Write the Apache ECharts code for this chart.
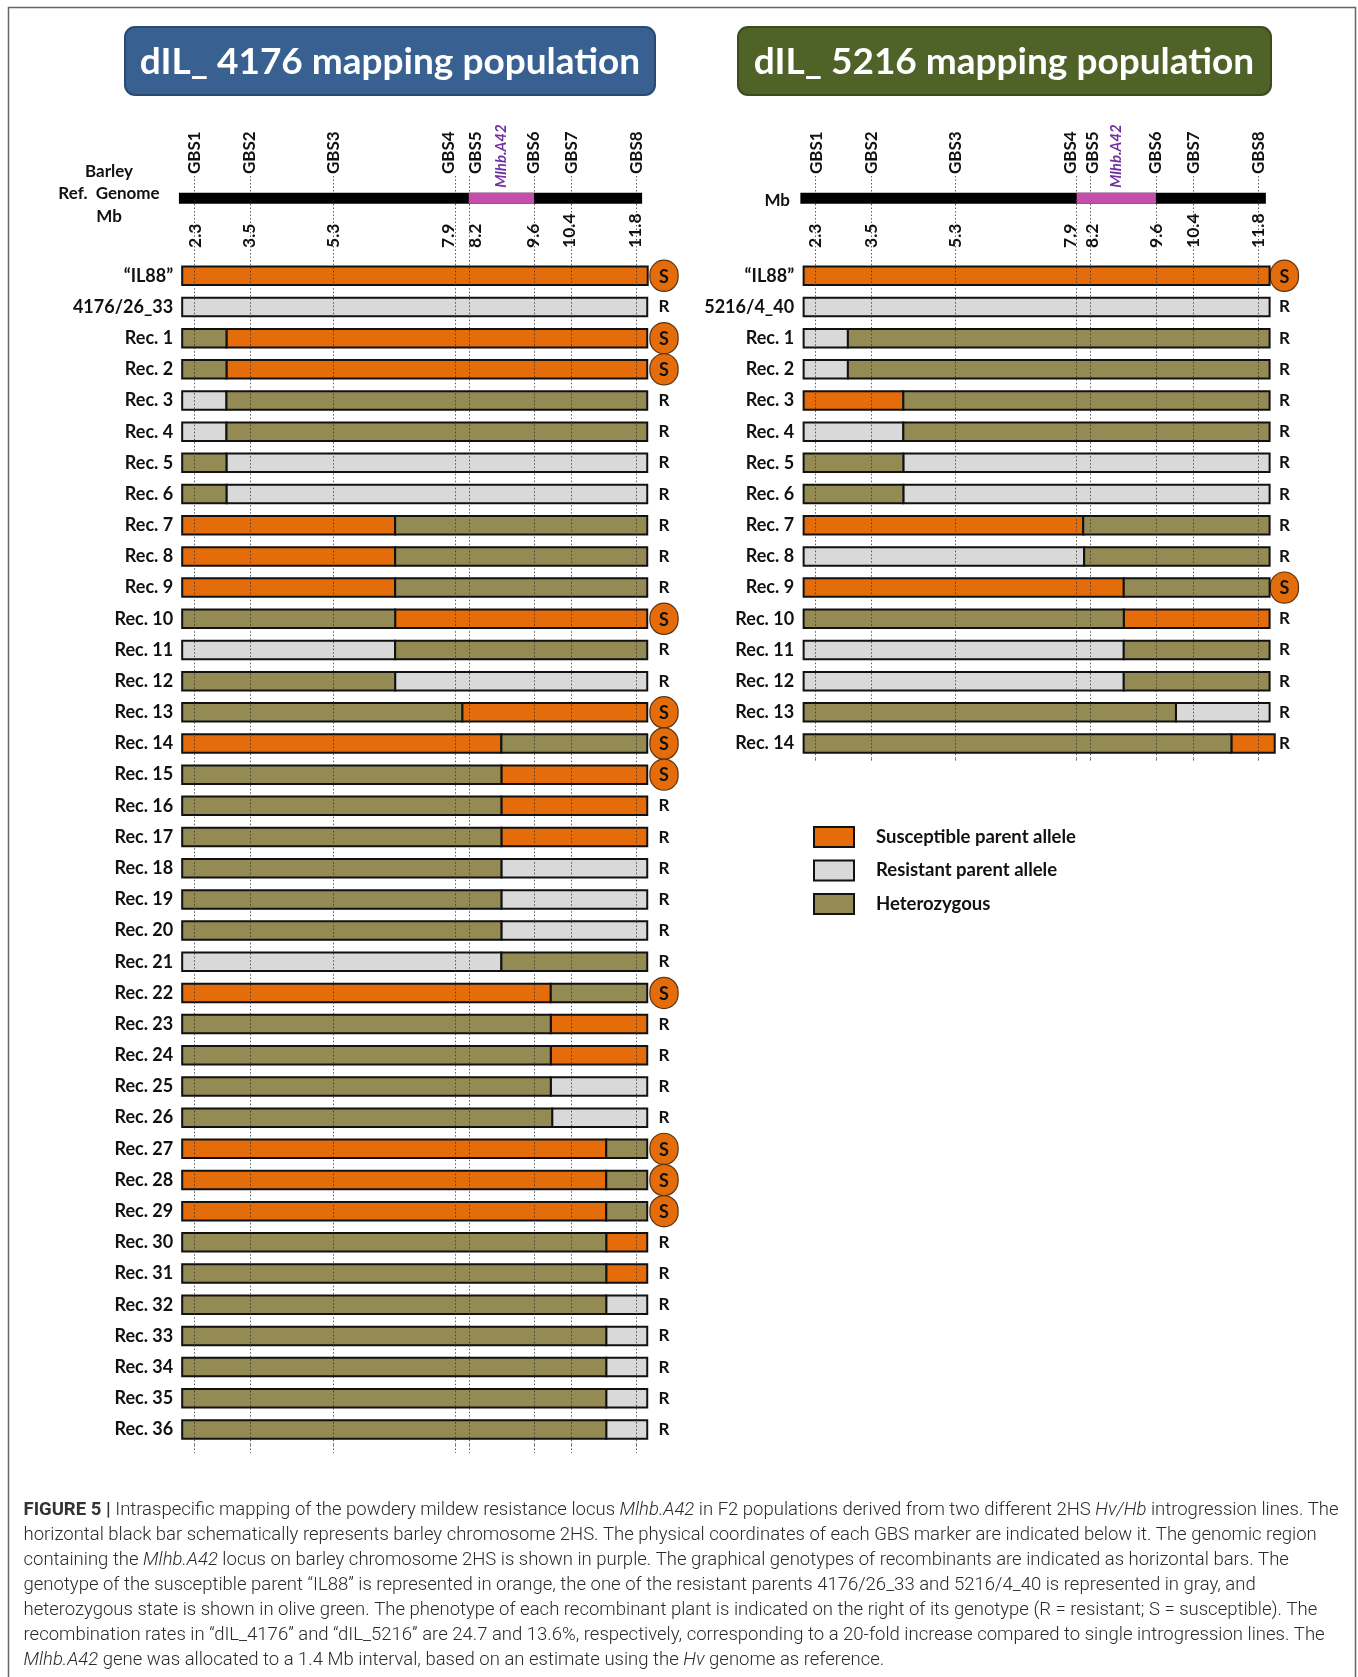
<!DOCTYPE html>
<html><head><meta charset="utf-8">
<script src="https://cdn.jsdelivr.net/npm/echarts@6/dist/echarts.min.js"></script>
<style>html,body{margin:0;padding:0;background:#fff}#c{width:1358px;height:1677px}</style>
</head><body><div id="c"></div>
<script>
// ---------------- data ----------------
const markerNames = ['GBS1','GBS2','GBS3','GBS4','GBS5','GBS6','GBS7','GBS8'];
const markerMb = [2.3, 3.5, 5.3, 7.9, 8.2, 9.6, 10.4, 11.8];
const locusName = 'Mlhb.A42';
const chromLeft = [1.98, 11.92];
const chromRight = [1.97, 11.96];
const locusLeft = [8.2, 9.6];
const locusRight = [7.9, 9.6];

const legendNames = ['Susceptible parent allele', 'Resistant parent allele', 'Heterozygous'];
// genotype codes: A = susceptible parent allele, B = resistant parent allele, H = heterozygous

const rowsLeft = ['“IL88”','4176/26_33','Rec. 1','Rec. 2','Rec. 3','Rec. 4','Rec. 5','Rec. 6','Rec. 7','Rec. 8','Rec. 9','Rec. 10',
  'Rec. 11','Rec. 12','Rec. 13','Rec. 14','Rec. 15','Rec. 16','Rec. 17','Rec. 18','Rec. 19','Rec. 20','Rec. 21','Rec. 22',
  'Rec. 23','Rec. 24','Rec. 25','Rec. 26','Rec. 27','Rec. 28','Rec. 29','Rec. 30','Rec. 31','Rec. 32','Rec. 33','Rec. 34','Rec. 35','Rec. 36'];
const genoFirstLeft  = ['A','B','H','H','B','B','H','H','A','A','A','H','B','H','H','A','H','H','H','H','H','H','B','A','H','H','H','H','A','A','A','H','H','H','H','H','H','H'];
const genoSecondLeft = [null,null,'A','A','H','H','B','B','H','H','H','A','H','B','A','H','A','A','A','B','B','B','H','H','A','A','B','B','H','H','H','A','A','B','B','B','B','B'];
const breakLeft = [null,null,3.0,3.0,3.0,3.0,3.0,3.0,6.62,6.62,6.62,6.62,6.62,6.62,8.06,8.9,8.9,8.9,8.9,8.9,8.9,8.9,8.9,
  9.96,9.96,9.96,9.96,9.99,11.15,11.15,11.15,11.15,11.15,11.15,11.15,11.15,11.15,11.15];
const phenoLeft = ['S','R','S','S','R','R','R','R','R','R','R','S','R','R','S','S','S','R','R','R','R','R','R','S','R','R','R','R','S','S','S','R','R','R','R','R','R','R'];
const startLeft = 2.05;
const endLeft = [12.04,12.03,12.03,12.03,12.03,12.03,12.03,12.03,12.03,12.03,12.03,12.03,12.03,12.03,12.03,12.03,12.03,12.03,12.03,
  12.03,12.03,12.03,12.03,12.03,12.03,12.03,12.03,12.03,12.03,12.03,12.03,12.03,12.03,12.03,12.03,12.03,12.03,12.03];

const rowsRight = ['“IL88”','5216/4_40','Rec. 1','Rec. 2','Rec. 3','Rec. 4','Rec. 5','Rec. 6','Rec. 7','Rec. 8','Rec. 9','Rec. 10','Rec. 11','Rec. 12','Rec. 13','Rec. 14'];
const genoFirstRight  = ['A','B','B','B','A','B','H','H','A','B','A','H','B','B','H','H'];
const genoSecondRight = [null,null,'H','H','H','H','B','B','H','H','H','A','H','H','B','A'];
const breakRight = [null,null,2.99,2.99,4.18,4.18,4.18,4.18,8.04,8.06,8.91,8.91,8.91,8.91,10.03,11.22];
const phenoRight = ['S','R','R','R','R','R','R','R','R','R','S','R','R','R','R','R'];
const startRight = 2.04;
const endRight = [12.04,12.04,12.04,12.04,12.04,12.04,12.04,12.04,12.04,12.04,12.04,12.04,12.04,12.04,12.04,12.15];

// ---------------- style / layout ----------------
const COLORS = {A:'#E46C0A', B:'#D9D9D9', H:'#948A54'};
const CODES = ['A','B','H'];
const FONT = 'Lato';
const X_MIN = 1.9, X_MAX = 12.1;
const GRID_W = 475.3;
const LEFT_X = 175.2, RIGHT_X = 797.1;
const CHR_TOP = 176, CHR_H = 84.2, CHR_Y = 0.265, CHR_BAR_H = 11, MB_LABEL_Y = 0.855;
const GEN_TOP = 260.2, ROW_H = 31.18, BAR_H = 18.5;
const TAIL_LEFT = 8, TAIL_RIGHT = 3;   // dotted guide lines run a little past the last row
// sideways nudge (px) of crowded marker labels so they do not collide
const GBS_SHIFT_LEFT = [0.5, 0, 0, -6.5, 6.5, 0, 0, 0];
const GBS_SHIFT_RIGHT = [0.5, 0, 0, -6, 2, 0, 0, 0];
const MB_SHIFT_LEFT = [2, 0, -0.5, -6.5, 6.5, -1, -1.5, -1];
const MB_SHIFT_RIGHT = [0, 0, 0, -6, 2, 0, 0, 0];

function buildSegments(first, second, brk, start, end) {
  const out = {A:[], B:[], H:[]};
  first.forEach((g, i) => {
    if (brk[i] == null) out[g].push([start, end[i], i]);
    else { out[g].push([start, brk[i], i]); out[second[i]].push([brk[i], end[i], i]); }
  });
  return out;
}
const segLeft = buildSegments(genoFirstLeft, genoSecondLeft, breakLeft, startLeft, endLeft);
const segRight = buildSegments(genoFirstRight, genoSecondRight, breakRight, startRight, endRight);

function chromRender(params, api) {
  const s = api.value(0), e = api.value(1), kind = api.value(2);
  const p0 = api.coord([s, CHR_Y]), p1 = api.coord([e, CHR_Y]);
  const rect = {type:'rect', shape:{x:p0[0], y:p0[1]-CHR_BAR_H/2, width:p1[0]-p0[0], height:CHR_BAR_H},
    style:{fill: kind === 1 ? '#C44FAA' : '#000'}};
  if (kind !== 1) return rect;
  const mid = api.coord([(s+e)/2, CHR_Y]);
  return {type:'group', children:[rect, {type:'text', x: mid[0], y: p0[1]-CHR_BAR_H/2-5, rotation: Math.PI/2,
    style:{text: locusName, fill:'#7030A0', font:'italic bold 15px Lato', fontFamily: FONT, fontSize: 15, fontWeight:'bold', fontStyle:'italic',
      align:'left', verticalAlign:'middle', textAlign:'left', textVerticalAlign:'middle'}}]};
}
function mbLabelRender(shifts) {
  return function (params, api) {
    const v = api.value(0), i = api.value(1);
    const p = api.coord([v, MB_LABEL_Y]);
    return {type:'text', x: p[0] + shifts[i], y: p[1], rotation: Math.PI/2,
      style:{text: v.toFixed(1), fill:'#111', font:'bold 17.5px Lato', fontFamily: FONT, fontSize: 17.5, fontWeight:'bold',
        align:'left', verticalAlign:'middle', textAlign:'left', textVerticalAlign:'middle'}};
  };
}
function genoRender(params, api) {
  const s = api.value(0), e = api.value(1), r = api.value(2);
  const p0 = api.coord([s, r]), p1 = api.coord([e, r]);
  return {type:'rect', shape:{x:p0[0], y:p0[1]-BAR_H/2, width:p1[0]-p0[0], height:BAR_H},
    style:{fill: api.visual('color'), stroke:'#111', lineWidth: 2}};
}

const dotted = {show:true, lineStyle:{color:'#333', width:1, type:[1.5,2], opacity:0.8}};
function shiftedRich(shifts, size) {
  const rich = {};
  shifts.forEach((s, i) => {
    rich['m' + i] = {fontFamily:FONT, fontWeight:'bold', fontSize:size, color:'#111',
      padding: s > 0 ? [2*s, 0, 0, 0] : s < 0 ? [0, 0, -2*s, 0] : 0};
  });
  return rich;
}
function gbsAxis(grid, shifts) {
  return {type:'value', gridIndex:grid, position:'top', min:X_MIN, max:X_MAX,
    axisLine:{show:false}, axisTick:{show:false, customValues: markerMb},
    axisLabel:{customValues: markerMb, rotate:90, margin:2,
      formatter: v => { const i = markerMb.indexOf(v); return '{m' + i + '|' + markerNames[i] + '}'; },
      fontFamily:FONT, fontWeight:'bold', fontSize:17, color:'#111', rich: shiftedRich(shifts, 17)},
    splitLine: dotted};
}
function guideXAxis(grid) {
  return {type:'value', gridIndex:grid, position:'top', min:X_MIN, max:X_MAX, z:5,
    axisLine:{show:false}, axisTick:{show:false, customValues: markerMb}, axisLabel:{show:false},
    splitLine: dotted};
}
function hiddenY(grid) {
  return {type:'value', gridIndex:grid, min:0, max:1, inverse:true, show:false, splitLine:{show:false}};
}
function rowY(grid, rows, margin) {
  return {type:'category', gridIndex:grid, data:rows, inverse:true, position:'left',
    axisLine:{show:false}, axisTick:{show:false}, splitLine:{show:false},
    axisLabel:{margin:margin, fontFamily:FONT, fontWeight:'bold', fontSize:18, color:'#111', interval:0}};
}
const phenoRich = {
  s:{width:27, height:28, lineHeight:28, align:'center', verticalAlign:'middle', backgroundColor:'#E46C0A',
     borderColor:'#5a3515', borderWidth:1.2, borderRadius:15, fontFamily:FONT, fontWeight:'bold', fontSize:18, color:'#111', padding:[2,0,0,0]},
  r:{width:27, align:'center', fontFamily:FONT, fontWeight:'bold', fontSize:17, color:'#111'}
};
function phenoY(grid, rows, pheno, margin) {
  return {type:'category', gridIndex:grid, data:rows, inverse:true, position:'right',
    axisLine:{show:false}, axisTick:{show:false}, splitLine:{show:false},
    axisLabel:{margin:margin, interval:0, formatter:(v, i) => pheno[i] === 'S' ? '{s|S}' : '{r|R}', rich: phenoRich}};
}

const series = [
  {type:'custom', xAxisIndex:0, yAxisIndex:0, renderItem: chromRender, clip:false, encode:{x:[0,1]},
   data:[[chromLeft[0], chromLeft[1], 0], [locusLeft[0], locusLeft[1], 1]], silent:true},
  {type:'custom', xAxisIndex:2, yAxisIndex:3, renderItem: chromRender, clip:false, encode:{x:[0,1]},
   data:[[chromRight[0], chromRight[1], 0], [locusRight[0], locusRight[1], 1]], silent:true},
  {type:'custom', xAxisIndex:0, yAxisIndex:0, renderItem: mbLabelRender(MB_SHIFT_LEFT), clip:false, encode:{x:0},
   data: markerMb.map((v, i) => [v, i]), silent:true, z:3},
  {type:'custom', xAxisIndex:2, yAxisIndex:3, renderItem: mbLabelRender(MB_SHIFT_RIGHT), clip:false, encode:{x:0},
   data: markerMb.map((v, i) => [v, i]), silent:true, z:3}
];
CODES.forEach((c, k) => {
  series.push({type:'custom', name: legendNames[k], xAxisIndex:1, yAxisIndex:1, renderItem: genoRender, clip:false,
    encode:{x:[0,1], y:2}, itemStyle:{color: COLORS[c], borderColor:'#111', borderWidth:2}, data: segLeft[c], z:2});
  series.push({type:'custom', name: legendNames[k], xAxisIndex:3, yAxisIndex:4, renderItem: genoRender, clip:false,
    encode:{x:[0,1], y:2}, itemStyle:{color: COLORS[c], borderColor:'#111', borderWidth:2}, data: segRight[c], z:2});
});

// caption
const captionLines = [
  [['b','FIGURE 5 | '],['n','Intraspecific mapping of the powdery mildew resistance locus '],['i','Mlhb.A42'],['n',' in F2 populations derived from two different 2HS '],['i','Hv/Hb'],['n',' introgression lines. The']],
  [['n','horizontal black bar schematically represents barley chromosome 2HS. The physical coordinates of each GBS marker are indicated below it. The genomic region']],
  [['n','containing the '],['i','Mlhb.A42'],['n',' locus on barley chromosome 2HS is shown in purple. The graphical genotypes of recombinants are indicated as horizontal bars. The']],
  [['n','genotype of the susceptible parent “IL88” is represented in orange, the one of the resistant parents 4176/26_33 and 5216/4_40 is represented in gray, and']],
  [['n','heterozygous state is shown in olive green. The phenotype of each recombinant plant is indicated on the right of its genotype (R = resistant; S = susceptible). The']],
  [['n','recombination rates in “dIL_4176” and “dIL_5216” are 24.7 and 13.6%, respectively, corresponding to a 20-fold increase compared to single introgression lines. The']],
  [['i','Mlhb.A42'],['n',' gene was allocated to a 1.4 Mb interval, based on an estimate using the '],['i','Hv'],['n',' genome as reference.']]
];
const CAP_FONT = 'Roboto';
const CAP_SIZE = 18.5;
const capRich = {
  n:{fontFamily:CAP_FONT, fontSize:CAP_SIZE, fontWeight:300, fill:'#2a2a2a'},
  i:{fontFamily:CAP_FONT, fontSize:CAP_SIZE, fontWeight:300, fontStyle:'italic', fill:'#2a2a2a'},
  b:{fontFamily:CAP_FONT, fontSize:CAP_SIZE, fontWeight:'bold', fill:'#333'}
};
const graphics = [
  {type:'rect', shape:{x:8.5, y:7.5, width:1347, height:1700}, style:{fill:'none', stroke:'#666', lineWidth:1.5}, silent:true},
  {type:'rect', shape:{x:125, y:27, width:530, height:68, r:10}, style:{fill:'#386192', stroke:'#2a4a72', lineWidth:2}},
  {type:'text', x:390, y:62, style:{text:'dIL_ 4176 mapping population', fill:'#fff', font:'bold 37px Lato', fontFamily:FONT, fontSize:37, fontWeight:'bold',
    align:'center', verticalAlign:'middle', textAlign:'center', textVerticalAlign:'middle'}},
  {type:'rect', shape:{x:738, y:27, width:533, height:68, r:10}, style:{fill:'#4F6228', stroke:'#3c4b1e', lineWidth:2}},
  {type:'text', x:1004, y:62, style:{text:'dIL_ 5216 mapping population', fill:'#fff', font:'bold 37px Lato', fontFamily:FONT, fontSize:37, fontWeight:'bold',
    align:'center', verticalAlign:'middle', textAlign:'center', textVerticalAlign:'middle'}},
  {type:'text', x:109, y:194, style:{text:'Barley\nRef.  Genome\nMb', fill:'#111', font:'bold 17px Lato', fontFamily:FONT, fontSize:17, fontWeight:'bold',
    lineHeight:22.5, align:'center', verticalAlign:'middle', textAlign:'center', textVerticalAlign:'middle'}},
  {type:'text', x:790, y:201, style:{text:'Mb', fill:'#111', font:'bold 17px Lato', fontFamily:FONT, fontSize:17, fontWeight:'bold',
    align:'right', verticalAlign:'middle', textAlign:'right', textVerticalAlign:'middle'}}
];
const capY0 = 1510, capDY = 25.1;
captionLines.forEach((line, i) => {
  graphics.push({type:'text', x:23.5, y: capY0 + i*capDY, style:{
    text: line.map(([k, t]) => '{' + k + '|' + t + '}').join(''), rich: capRich,
    font:'300 ' + CAP_SIZE + 'px Roboto', fill:'#2a2a2a', align:'left', verticalAlign:'middle', textAlign:'left', textVerticalAlign:'middle'}});
});

const hL = ROW_H * rowsLeft.length, hR = ROW_H * rowsRight.length;
const option = {
  animation: false,
  backgroundColor: '#fff',
  grid: [
    {left:LEFT_X, top:CHR_TOP, width:GRID_W, height:CHR_H, containLabel:false, outerBoundsMode:'none'},
    {left:LEFT_X, top:GEN_TOP, width:GRID_W, height:hL, containLabel:false, outerBoundsMode:'none'},
    {left:RIGHT_X, top:CHR_TOP, width:GRID_W, height:CHR_H, containLabel:false, outerBoundsMode:'none'},
    {left:RIGHT_X, top:GEN_TOP, width:GRID_W, height:hR, containLabel:false, outerBoundsMode:'none'},
    {left:LEFT_X, top:GEN_TOP + hL, width:GRID_W, height:TAIL_LEFT, containLabel:false, outerBoundsMode:'none'},
    {left:RIGHT_X, top:GEN_TOP + hR, width:GRID_W, height:TAIL_RIGHT, containLabel:false, outerBoundsMode:'none'}
  ],
  xAxis: [gbsAxis(0, GBS_SHIFT_LEFT), guideXAxis(1), gbsAxis(2, GBS_SHIFT_RIGHT), guideXAxis(3), guideXAxis(4), guideXAxis(5)],
  yAxis: [hiddenY(0), rowY(1, rowsLeft, 2), phenoY(1, rowsLeft, phenoLeft, 0), hiddenY(2), rowY(3, rowsRight, 3), phenoY(3, rowsRight, phenoRight, -1.5),
          hiddenY(4), hiddenY(5)],
  legend: {left:813, top:826, padding:0, orient:'vertical', itemWidth:40, itemHeight:20, itemGap:11.5, icon:'rect', selectedMode:false,
    data: legendNames, itemStyle:{borderColor:'#111', borderWidth:2},
    textStyle:{fontFamily:FONT, fontWeight:'bold', fontSize:18.5, lineHeight:20, color:'#111', padding:[0,0,0,17]}},
  series: series,
  graphic: graphics
};
const chart = echarts.init(document.getElementById('c'), null, {renderer:'canvas', width:1358, height:1677});
chart.setOption(option);
</script>
</body></html>
